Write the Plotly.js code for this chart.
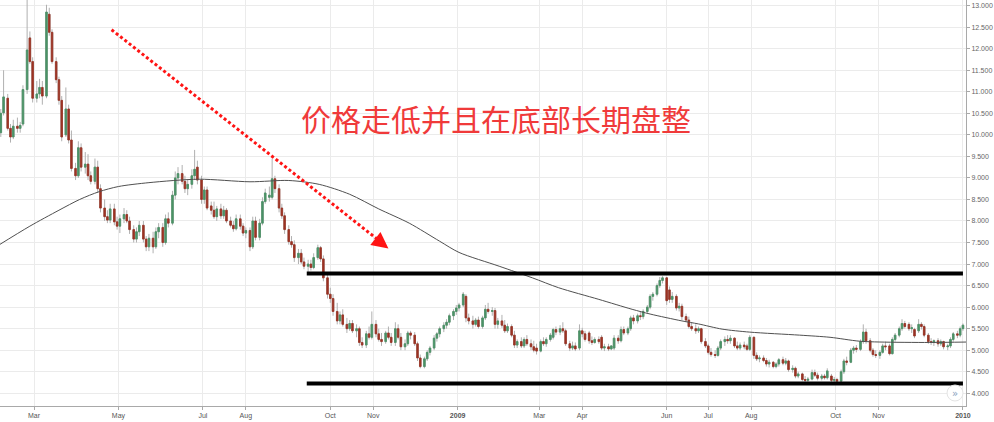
<!DOCTYPE html>
<html><head><meta charset="utf-8">
<script src="https://cdn.plot.ly/plotly-3.0.1.min.js"></script>
<style>html,body{margin:0;padding:0;background:#fff}#chart{width:994px;height:422px}</style>
</head><body><div id="chart"></div>
<script>
// Trading sessions: Mon / Wed / Fri of each week starting the week of 2008-02-04
const firstMonday = '2008-02-04';
const sessionOffsets = [0, 2, 4];

const open = [
10.05,10.51,10.85,10.15,9.95,10.20,10.15,10.25,11.05,12.25,
11.70,10.85,10.95,11.10,10.90,12.80,12.38,11.70,11.28,10.80,
10.00,10.60,9.88,9.22,9.05,9.70,9.25,9.32,9.05,8.92,
9.25,8.75,8.30,8.10,8.02,8.28,7.98,7.88,8.05,8.15,
8.00,7.80,7.58,7.75,7.90,7.58,7.40,7.60,7.40,7.75,
7.85,7.50,8.05,7.95,8.60,9.00,9.10,8.92,8.75,8.85,
9.05,9.25,8.95,8.50,8.72,8.35,8.25,8.10,8.28,8.12,
8.25,8.00,7.90,7.82,8.05,7.88,7.72,7.78,7.40,8.00,
7.62,7.95,8.45,8.55,8.55,8.98,8.75,8.30,8.12,7.80,
7.52,7.45,7.15,7.25,7.05,6.95,7.00,6.92,7.15,7.38,
7.12,6.68,6.30,6.20,5.90,5.68,5.82,5.60,5.50,5.62,
5.45,5.50,5.18,5.12,5.38,5.30,5.60,5.38,5.25,5.20,
5.40,5.30,5.18,5.50,5.30,5.08,5.15,5.40,5.35,5.15,
4.82,4.62,4.80,4.95,5.05,5.28,5.38,5.50,5.58,5.65,
5.80,5.90,5.98,6.05,6.25,5.75,5.68,5.60,5.70,5.55,
5.75,5.95,5.90,5.92,5.60,5.68,5.58,5.45,5.55,5.35,
5.12,5.20,5.10,5.25,5.15,5.08,5.05,4.98,5.20,5.15,
5.25,5.30,5.48,5.42,5.50,5.45,5.15,5.05,5.10,5.05,
5.45,5.38,5.40,5.22,5.18,5.25,5.30,5.05,5.08,5.03,
5.05,5.28,5.22,5.48,5.40,5.50,5.75,5.68,5.80,5.78,
5.90,6.00,6.25,6.30,6.50,6.62,6.68,6.40,6.18,6.25,
5.98,6.02,5.78,5.70,5.55,5.50,5.45,5.50,5.20,5.10,
4.95,4.90,4.88,5.05,5.20,5.25,5.22,5.28,5.10,5.05,
5.12,5.10,5.02,5.30,4.88,4.80,4.82,4.76,4.68,4.72,
4.62,4.68,4.78,4.70,4.75,4.55,4.58,4.40,4.45,4.32,
4.30,4.33,4.48,4.42,4.35,4.40,4.36,4.40,4.30,4.32,
4.28,4.50,4.75,4.72,5.00,5.05,5.02,5.20,5.42,5.22,
5.00,4.90,4.88,4.95,5.10,5.10,4.92,5.25,5.35,5.50,
5.62,5.60,5.50,5.48,5.45,5.60,5.55,5.35,5.20,5.18,
5.22,5.15,5.20,5.08,5.10,5.25,5.38,5.35,5.50];

const high = [
10.60,11.50,10.95,10.25,10.35,10.40,10.30,11.15,13.13,12.40,
11.80,11.25,11.30,11.25,13.02,12.95,12.45,11.80,11.35,10.90,
11.10,10.70,10.10,9.35,9.85,9.80,9.60,9.55,9.15,9.45,
9.40,8.85,8.50,8.25,8.40,8.40,8.10,8.15,8.30,8.25,
8.10,7.90,7.85,8.00,8.00,7.65,7.70,7.75,7.85,7.95,
7.95,8.15,8.20,8.70,9.15,9.25,9.30,9.05,8.95,9.20,
9.65,9.40,9.05,8.80,8.80,8.45,8.45,8.35,8.40,8.35,
8.30,8.10,8.00,8.15,8.15,7.95,7.85,7.85,8.10,8.10,
8.05,8.55,8.75,8.80,9.45,9.05,8.85,8.40,8.20,7.90,
7.65,7.55,7.35,7.35,7.15,7.10,7.10,7.25,7.45,7.42,
7.20,6.75,6.45,6.30,6.10,5.90,5.95,5.75,5.70,5.70,
5.60,5.55,5.30,5.45,5.55,5.90,5.70,5.50,5.40,5.45,
5.55,5.40,5.65,5.60,5.40,5.25,5.45,5.45,5.42,5.20,
4.90,4.85,5.00,5.10,5.35,5.42,5.55,5.65,5.72,5.85,
5.95,6.05,6.10,6.35,6.30,5.85,5.80,5.75,5.78,5.80,
6.05,6.10,6.00,5.98,5.75,5.82,5.70,5.62,5.60,5.45,
5.25,5.30,5.30,5.35,5.25,5.22,5.15,5.25,5.30,5.30,
5.40,5.52,5.55,5.58,5.65,5.50,5.22,5.20,5.18,5.60,
5.52,5.45,5.45,5.32,5.30,5.32,5.35,5.15,5.15,5.12,
5.35,5.35,5.55,5.55,5.55,5.80,5.82,5.85,5.90,5.95,
6.05,6.30,6.35,6.55,6.70,6.72,6.70,6.48,6.35,6.30,
6.10,6.08,5.85,5.78,5.65,5.60,5.55,5.52,5.28,5.15,
5.05,5.00,5.10,5.25,5.32,5.35,5.35,5.30,5.20,5.18,
5.20,5.15,5.35,5.32,4.95,4.88,4.88,4.82,4.78,4.75,
4.72,4.82,4.85,4.82,4.78,4.65,4.62,4.50,4.48,4.40,
4.38,4.55,4.55,4.48,4.45,4.45,4.58,4.45,4.38,4.36,
4.55,4.80,4.85,5.05,5.10,5.12,5.25,5.60,5.50,5.28,
5.05,5.00,5.00,5.15,5.20,5.15,5.30,5.40,5.55,5.72,
5.68,5.65,5.60,5.52,5.72,5.65,5.60,5.40,5.28,5.25,
5.28,5.25,5.22,5.15,5.30,5.42,5.45,5.55,5.62];

const low = [
9.95,10.45,10.10,9.82,9.90,10.05,10.05,10.20,10.95,11.65,
10.75,10.75,10.85,10.70,10.85,12.30,11.65,11.20,10.70,9.85,
9.95,9.80,9.15,8.95,9.00,9.15,9.10,8.95,8.85,8.85,
8.65,8.20,8.00,7.95,7.95,7.90,7.80,7.72,7.95,7.95,
7.70,7.50,7.50,7.65,7.50,7.30,7.30,7.25,7.35,7.60,
7.40,7.45,7.85,7.90,8.50,8.85,8.85,8.65,8.60,8.75,
8.95,8.85,8.40,8.40,8.25,8.15,8.05,8.00,8.05,8.05,
7.95,7.85,7.75,7.78,7.80,7.65,7.60,7.30,7.35,7.55,
7.55,7.90,8.40,8.45,8.50,8.65,8.20,8.05,7.70,7.45,
7.38,7.05,7.00,7.00,6.88,6.78,6.85,6.88,7.10,7.05,
6.60,6.20,6.10,5.80,5.60,5.60,5.55,5.40,5.45,5.40,
5.30,5.10,5.05,5.05,5.25,5.25,5.30,5.20,5.10,5.15,
5.25,5.10,5.10,5.25,5.00,5.00,5.10,5.25,5.10,4.75,
4.58,4.58,4.75,4.88,5.00,5.20,5.30,5.42,5.50,5.58,
5.70,5.82,5.90,6.00,5.65,5.60,5.50,5.55,5.50,5.50,
5.70,5.85,5.80,5.50,5.50,5.52,5.40,5.40,5.30,5.05,
5.05,5.05,5.05,5.10,5.00,4.95,4.90,4.95,5.10,5.08,
5.20,5.25,5.35,5.35,5.40,5.10,4.98,5.00,4.98,5.00,
5.30,5.20,5.15,5.12,5.15,5.15,5.00,4.98,4.98,5.00,
5.00,5.15,5.18,5.35,5.35,5.45,5.60,5.62,5.70,5.72,
5.85,5.95,6.15,6.25,6.45,6.55,6.05,6.10,6.10,5.92,
5.90,5.70,5.65,5.50,5.45,5.38,5.40,5.15,5.05,4.90,
4.85,4.82,4.85,5.00,5.10,5.15,5.15,5.05,5.00,5.00,
5.02,4.98,4.98,4.80,4.75,4.72,4.72,4.62,4.60,4.58,
4.58,4.62,4.65,4.65,4.50,4.48,4.35,4.35,4.28,4.25,
4.26,4.30,4.38,4.30,4.30,4.32,4.32,4.25,4.23,4.22,
4.25,4.45,4.65,4.70,4.92,4.95,4.98,5.15,5.15,4.95,
4.85,4.82,4.80,4.92,5.00,4.88,4.90,5.20,5.30,5.45,
5.50,5.45,5.40,5.28,5.40,5.48,5.30,5.15,5.12,5.10,
5.08,5.10,5.02,5.00,5.05,5.20,5.28,5.30,5.45];

const close = [
10.50,10.88,10.15,9.95,10.20,10.15,10.22,11.05,11.97,11.70,
10.85,10.95,11.10,10.90,12.85,12.38,11.70,11.28,10.80,9.95,
10.60,9.88,9.22,9.05,9.70,9.25,9.32,9.05,8.92,9.25,
8.75,8.30,8.10,8.02,8.28,7.98,7.88,8.05,8.15,8.00,
7.80,7.58,7.75,7.90,7.58,7.40,7.60,7.40,7.75,7.85,
7.50,8.05,7.95,8.60,9.00,9.10,8.92,8.75,8.85,9.05,
9.20,8.95,8.50,8.72,8.30,8.25,8.10,8.28,8.12,8.25,
8.00,7.90,7.82,8.05,7.88,7.72,7.78,7.40,8.00,7.62,
7.95,8.45,8.65,8.60,8.98,8.75,8.30,8.12,7.80,7.52,
7.45,7.15,7.25,7.05,6.95,7.00,6.92,7.15,7.38,7.12,
6.68,6.30,6.20,5.90,5.68,5.82,5.60,5.50,5.62,5.45,
5.50,5.18,5.12,5.38,5.30,5.60,5.38,5.25,5.20,5.40,
5.30,5.18,5.50,5.30,5.08,5.15,5.40,5.35,5.15,4.82,
4.62,4.80,4.95,5.05,5.28,5.38,5.50,5.58,5.65,5.80,
5.90,5.98,6.05,6.30,5.75,5.68,5.60,5.70,5.55,5.75,
5.95,5.90,5.92,5.60,5.68,5.58,5.45,5.55,5.35,5.12,
5.20,5.10,5.25,5.15,5.08,5.00,4.98,5.20,5.15,5.25,
5.35,5.48,5.42,5.50,5.45,5.15,5.05,5.10,5.03,5.45,
5.38,5.25,5.22,5.18,5.25,5.20,5.05,5.08,5.03,5.10,
5.28,5.22,5.48,5.40,5.50,5.75,5.68,5.80,5.78,5.90,
6.00,6.25,6.30,6.50,6.62,6.68,6.15,6.18,6.25,5.98,
6.02,5.78,5.70,5.55,5.50,5.45,5.50,5.20,5.10,4.95,
4.90,4.88,5.05,5.20,5.25,5.22,5.28,5.10,5.05,5.12,
5.08,5.02,5.30,4.88,4.80,4.82,4.76,4.68,4.72,4.62,
4.68,4.78,4.70,4.75,4.55,4.58,4.40,4.45,4.32,4.30,
4.33,4.48,4.42,4.35,4.40,4.36,4.52,4.30,4.32,4.28,
4.50,4.75,4.72,5.00,5.05,5.02,5.20,5.42,5.22,5.00,
4.90,4.88,4.95,5.10,5.08,4.92,5.25,5.35,5.50,5.62,
5.55,5.50,5.52,5.33,5.60,5.55,5.35,5.20,5.18,5.22,
5.15,5.20,5.08,5.10,5.25,5.38,5.35,5.50,5.58];

// Moving average line
const maDates = ['2008-02-04','2008-02-27','2008-03-19','2008-04-03','2008-04-17','2008-05-01','2008-05-23','2008-06-28','2008-08-04','2008-09-01','2008-09-23','2008-10-15','2008-11-05','2008-11-27','2008-12-19','2009-01-02','2009-01-31','2009-02-24','2009-03-15','2009-04-13','2009-05-07','2009-05-20','2009-06-12','2009-06-24','2009-07-11','2009-07-31','2009-09-05','2009-09-27','2009-10-18','2009-11-02','2009-12-08','2010-01-04'];
const maValues = [7.43,7.88,8.25,8.50,8.68,8.80,8.89,8.97,8.91,8.94,8.85,8.62,8.28,7.95,7.53,7.27,6.95,6.68,6.45,6.18,5.95,5.84,5.68,5.61,5.49,5.42,5.35,5.30,5.21,5.19,5.18,5.19];

// Support / resistance levels
const levelValues = [6.78, 4.23];
const levelStart = '2008-09-14';
const levelEnd = '2010-01-01';

// Red dotted arrow
const arrowFrom = ['2008-04-26', 12.44];
const arrowLineEnd = ['2008-11-07', 7.50];
const arrowTip = ['2008-11-12', 7.36];

const note = '价格走低并且在底部长期盘整';

const tickDates = ['2008-03-01','2008-05-01','2008-07-01','2008-08-01','2008-10-01','2008-11-01','2009-01-01','2009-03-01','2009-04-01','2009-06-01','2009-07-01','2009-08-01','2009-10-01','2009-11-01','2010-01-01'];
const tickLabels = ['Mar','May','Jul','Aug','Oct','Nov','<b>2009</b>','Mar','Apr','Jun','Jul','Aug','Oct','Nov','<b>2010</b>'];

// session dates
const dates = [];
const base = Date.parse(firstMonday + 'T00:00:00Z');
for (let w = 0; dates.length < close.length; w++) {
  for (const off of sessionOffsets) {
    if (w === 0 && off === 0) continue;
    if (dates.length >= close.length) break;
    dates.push(new Date(base + (w * 7 + off) * 86400000).toISOString().slice(0, 10));
  }
}
const bodyHigh = open.map((o, i) => Math.max(o, close[i]));
const bodyLow = open.map((o, i) => Math.min(o, close[i]));

const GREEN = '#4b9367', RED = '#9c3324', WICK = '#b0b0b0';

const traces = [
  {type: 'candlestick', x: dates, open: open, high: high, low: low, close: close,
   increasing: {line: {color: WICK, width: 1}, fillcolor: WICK},
   decreasing: {line: {color: WICK, width: 1}, fillcolor: WICK},
   whiskerwidth: 0, hoverinfo: 'skip'},
  {type: 'candlestick', x: dates, open: open, high: bodyHigh, low: bodyLow, close: close,
   increasing: {line: {color: GREEN, width: 0.8}, fillcolor: GREEN},
   decreasing: {line: {color: RED, width: 0.8}, fillcolor: RED},
   whiskerwidth: 0, hoverinfo: 'skip'},
  {type: 'scatter', mode: 'lines', x: maDates, y: maValues,
   line: {color: '#505050', width: 1, shape: 'spline', smoothing: 0.8}, hoverinfo: 'skip'}
];

const shapes = levelValues.map(v => ({type: 'line', xref: 'x', yref: 'y', x0: levelStart, x1: levelEnd, y0: v, y1: v,
  line: {color: '#000', width: 4}}));
shapes.push({type: 'line', xref: 'x', yref: 'y', x0: arrowFrom[0], y0: arrowFrom[1], x1: arrowLineEnd[0], y1: arrowLineEnd[1],
  line: {color: '#ff1414', width: 3, dash: '3px,2.5px'}});
shapes.push({type: 'circle', xref: 'paper', yref: 'paper', x0: 947/966, x1: 963/966, y0: 1 - 401/406, y1: 1 - 385/406,
  line: {color: '#e4e4e4', width: 1}, fillcolor: 'rgba(255,255,255,0.9)'});

const axisFont = {family: 'Liberation Sans, Arial, sans-serif', size: 7, color: '#555'};

const layout = {
  width: 994, height: 422,
  margin: {l: 0, r: 28, t: 0, b: 16},
  paper_bgcolor: '#ffffff', plot_bgcolor: '#ffffff',
  showlegend: false, hovermode: false,
  boxgap: 0.25, boxgroupgap: 0.25,
  xaxis: {type: 'date', range: ['2008-02-05 10:00', '2010-01-03 05:00'], rangeslider: {visible: false},
    tickmode: 'array', tickvals: tickDates, ticktext: tickLabels,
    showgrid: true, gridcolor: '#ebebeb', gridwidth: 1, zeroline: false,
    showline: true, linecolor: '#a9a9a9', linewidth: 1,
    ticks: 'outside', ticklen: 3, tickcolor: '#a9a9a9', tickfont: axisFont},
  yaxis: {side: 'right', range: [3.705, 13.13], tick0: 0, dtick: 0.5, tickformat: '.3f',
    showgrid: true, gridcolor: '#ebebeb', gridwidth: 1, zeroline: false,
    showline: true, linecolor: '#a9a9a9', linewidth: 1,
    ticks: 'outside', ticklen: 3, tickcolor: '#a9a9a9', tickfont: {family: axisFont.family, size: 7, color: '#666'}},
  shapes: shapes,
  annotations: [
    {xref: 'x', yref: 'y', x: arrowTip[0], y: arrowTip[1], ax: -9, ay: -7, text: '', showarrow: true,
     arrowhead: 2, arrowsize: 1.1, arrowwidth: 3, arrowcolor: '#ff1414', standoff: 0},
    {xref: 'paper', yref: 'paper', x: 496/966, y: 1 - 118/406, xanchor: 'center', yanchor: 'middle',
     text: note, showarrow: false, font: {family: 'Noto Sans CJK SC', size: 30, color: '#f03a3a'}},
    {xref: 'paper', yref: 'paper', x: 955/966, y: 1 - 393/406, xanchor: 'center', yanchor: 'middle',
     text: '»', showarrow: false, font: {family: 'DejaVu Sans', size: 10, color: '#8aa2c0'}}
  ]
};

Plotly.newPlot('chart', traces, layout, {staticPlot: true, displayModeBar: false});
</script>
</body></html>
